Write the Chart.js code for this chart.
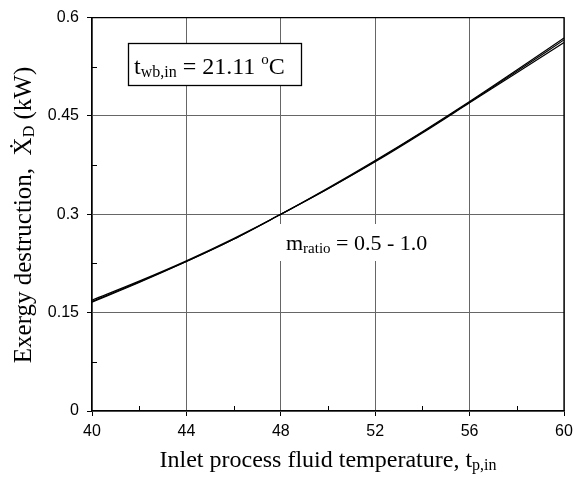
<!DOCTYPE html>
<html>
<head>
<meta charset="utf-8">
<script src="https://cdn.jsdelivr.net/npm/chart.js@4.4.1/dist/chart.umd.min.js"></script>
<style>
  html, body { margin: 0; padding: 0; background: #fff; }
  #wrap { width: 574px; height: 479px; }
</style>
</head>
<body>
<div id="wrap"><canvas id="exChart" width="574" height="479"></canvas></div>
<script>
// inlet process fluid temperature (x)
const tempIn = [40, 42, 44, 46, 48, 50, 52, 54, 56, 58, 60];
// exergy destruction (kW) for a few mass ratios, nearly on top of each other
const exdRatio05 = [0.169, 0.198, 0.229, 0.263, 0.300, 0.340, 0.382, 0.426, 0.472, 0.520, 0.569];
const exdRatio075 = [0.167, 0.197, 0.228, 0.262, 0.300, 0.339, 0.381, 0.425, 0.471, 0.518, 0.566];
const exdRatio10 = [0.166, 0.196, 0.228, 0.262, 0.300, 0.339, 0.380, 0.424, 0.470, 0.516, 0.562];

const xTicks = [40, 44, 48, 52, 56, 60];
const yTicks = [0, 0.15, 0.3, 0.45, 0.6];
const xMinor = [42, 46, 50, 54, 58];
const yMinor = [0.075, 0.225, 0.375, 0.525];

const serif = '"Liberation Serif", "Times New Roman", serif';

// draw text pieces side by side (for subscripts / superscripts)
const drawRich = (ctx, parts, x, y) => {
  let cx = x;
  parts.forEach((p) => {
    ctx.font = p.size + "px " + serif;
    ctx.fillText(p.t, cx, y + (p.dy || 0));
    cx += ctx.measureText(p.t).width;
  });
  return cx;
};

const richWidth = (ctx, parts) => {
  let w = 0;
  parts.forEach((p) => {
    ctx.font = p.size + "px " + serif;
    w += ctx.measureText(p.t).width;
  });
  return w;
};

const decorPlugin = {
  id: "decor",
  beforeDatasetsDraw(chart) {
    const ctx = chart.ctx;
    // white patch behind the m_ratio label
    ctx.save();
    ctx.fillStyle = "#fff";
    ctx.fillRect(280, 224, 165, 37);
    ctx.restore();
  },
  afterDraw(chart) {
    const ctx = chart.ctx;
    const a = chart.chartArea;
    const xs = chart.scales.x;
    const ys = chart.scales.y;
    ctx.save();

    // frame top + right
    ctx.strokeStyle = "#000";
    ctx.lineWidth = 1.3;
    ctx.beginPath();
    ctx.moveTo(a.left, a.top);
    ctx.lineTo(a.right, a.top);
    ctx.lineTo(a.right, a.bottom);
    ctx.stroke();

    // minor ticks pointing inward
    ctx.lineWidth = 1;
    ctx.beginPath();
    xMinor.forEach((v) => {
      const px = Math.round(xs.getPixelForValue(v)) + 0.5;
      ctx.moveTo(px, a.bottom);
      ctx.lineTo(px, a.bottom - 5);
    });
    yMinor.forEach((v) => {
      const py = Math.round(ys.getPixelForValue(v)) + 0.5;
      ctx.moveTo(a.left, py);
      ctx.lineTo(a.left + 5, py);
    });
    ctx.stroke();

    ctx.fillStyle = "#000";
    ctx.textBaseline = "alphabetic";
    ctx.textAlign = "left";

    // t_wb,in box
    ctx.fillStyle = "#fff";
    ctx.fillRect(128, 43, 174, 43);
    ctx.strokeStyle = "#000";
    ctx.lineWidth = 1.3;
    ctx.strokeRect(128.5, 43.5, 173, 42);
    ctx.fillStyle = "#000";
    drawRich(ctx, [
      { t: "t", size: 24 },
      { t: "wb,in", size: 16, dy: 3 },
      { t: " = 21.11 ", size: 24 },
      { t: "o", size: 15, dy: -10 },
      { t: "C", size: 24 },
    ], 134, 74);

    // m_ratio label
    drawRich(ctx, [
      { t: "m", size: 22 },
      { t: "ratio", size: 15, dy: 3 },
      { t: " = 0.5 - 1.0", size: 22 },
    ], 286, 250);

    // x axis title
    const xParts = [
      { t: "Inlet process fluid temperature, t", size: 24 },
      { t: "p,in", size: 16, dy: 3 },
    ];
    const xw = richWidth(ctx, xParts);
    drawRich(ctx, xParts, (a.left + a.right) / 2 - xw / 2, 467);

    // y axis title (rotated)
    const yParts = [
      { t: "Exergy destruction,  ", size: 25 },
      { t: "X\u0307", size: 25 },
      { t: "D", size: 16, dy: 3 },
      { t: " (kW)", size: 25 },
    ];
    const yw = richWidth(ctx, yParts);
    ctx.translate(31, 215);
    ctx.rotate(-Math.PI / 2);
    drawRich(ctx, yParts, -yw / 2, 0);

    ctx.restore();
  },
};

const mkSet = (label, data) => ({
  label: label,
  data: data,
  borderColor: "#000",
  borderWidth: 1.2,
  pointRadius: 0,
  fill: false,
  tension: 0.4,
  cubicInterpolationMode: "monotone",
});

const exCtx = document.getElementById("exChart");
const exChart = new Chart(exCtx, {
  type: "line",
  data: {
    labels: tempIn,
    datasets: [
      mkSet("m_ratio 0.5", exdRatio05),
      mkSet("m_ratio 0.75", exdRatio075),
      mkSet("m_ratio 1.0", exdRatio10),
    ],
  },
  options: {
    responsive: false,
    animation: false,
    layout: { padding: { top: 17, right: 10, left: 0, bottom: 0 } },
    plugins: {
      legend: { display: false },
      tooltip: { enabled: false },
    },
    scales: {
      x: {
        type: "linear",
        min: 40,
        max: 60,
        afterBuildTicks: (s) => { s.ticks = xTicks.map((v) => ({ value: v })); },
        afterFit: (s) => { s.height = 68; s.paddingLeft = 0; s.paddingRight = 0; },
        grid: { color: "#666", lineWidth: 1, tickLength: 5, tickColor: "#000" },
        border: { color: "#000", width: 1.3 },
        ticks: {
          color: "#000",
          font: { family: '"Liberation Sans", Arial, sans-serif', size: 16 },
          padding: 6,
          maxRotation: 0,
        },
      },
      y: {
        min: 0,
        max: 0.6,
        afterBuildTicks: (s) => { s.ticks = yTicks.map((v) => ({ value: v })); },
        afterFit: (s) => { s.width = 92; },
        grid: { color: "#666", lineWidth: 1, tickLength: 5, tickColor: "#000" },
        border: { color: "#000", width: 1.3 },
        ticks: {
          color: "#000",
          font: { family: '"Liberation Sans", Arial, sans-serif', size: 16 },
          padding: 8,
          callback: (v) => String(Math.round(v * 100) / 100),
        },
      },
    },
  },
  plugins: [decorPlugin],
});
</script>
</body>
</html>
